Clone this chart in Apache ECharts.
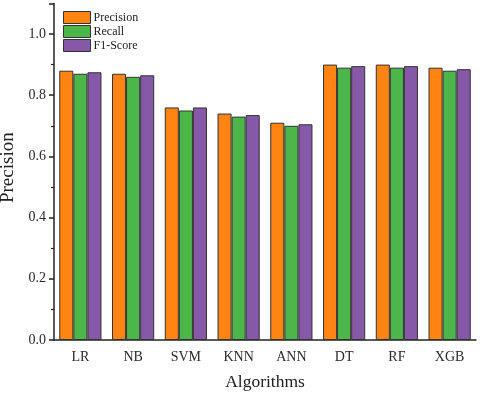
<!DOCTYPE html>
<html>
<head>
<meta charset="utf-8">
<script src="https://cdn.jsdelivr.net/npm/echarts@6/dist/echarts.min.js"></script>
<style>
  html, body { margin: 0; padding: 0; background: #fff; }
  #chart { width: 480px; height: 398px; }
</style>
</head>
<body>
<div id="chart"></div>
<script>
const categories = ["LR", "NB", "SVM", "KNN", "ANN", "DT", "RF", "XGB"];
const precision = [0.88, 0.87, 0.76, 0.74, 0.71, 0.90, 0.90, 0.89];
const recall = [0.87, 0.86, 0.75, 0.73, 0.70, 0.89, 0.89, 0.88];
const f1Score = [0.875, 0.865, 0.76, 0.735, 0.705, 0.895, 0.895, 0.885];

const font = "'Liberation Serif', 'DejaVu Serif', serif";
const barStyle = (color) => ({ color: color, borderColor: "#333", borderWidth: 1 });

const chart = echarts.init(document.getElementById("chart"));
chart.setOption({
  animation: false,
  textStyle: { fontFamily: font },
  legend: {
    left: 58,
    top: 6,
    orient: "vertical",
    itemWidth: 27,
    itemHeight: 12,
    itemGap: 1,
    icon: "rect",
    textStyle: { fontFamily: font, fontSize: 12, color: "#222", padding: [0, 0, 0, -2] },
    itemStyle: { borderColor: "#333", borderWidth: 1 },
    data: ["Precision", "Recall", "F1-Score"]
  },
  grid: { left: 54, right: 4, top: 3.4, bottom: 58, outerBoundsMode: "none" },
  xAxis: [
    {
      type: "category",
      data: categories,
      name: "Algorithms",
      nameLocation: "middle",
      nameGap: 33,
      nameTextStyle: { fontFamily: font, fontSize: 17.5, color: "#222" },
      axisLine: { lineStyle: { color: "#222", width: 1.5 } },
      axisTick: { alignWithLabel: true, length: 5, lineStyle: { color: "#222", width: 1.5 } },
      axisLabel: { fontFamily: font, fontSize: 14, color: "#2a2a2a", margin: 10 }
    },
    {
      type: "category",
      data: categories,
      position: "bottom",
      axisLine: { show: false },
      axisTick: { length: 3, lineStyle: { color: "#222", width: 1.2 } },
      axisLabel: { show: false }
    }
  ],
  yAxis: {
    type: "value",
    min: 0,
    max: 1.1,
    interval: 0.2,
    name: "Precision",
    nameLocation: "middle",
    nameGap: 33,
    nameTextStyle: { fontFamily: font, fontSize: 19, color: "#222", padding: [0, 0, 0, 8] },
    axisLine: { show: true, lineStyle: { color: "#222", width: 1.5 } },
    axisTick: { show: true, length: 5, lineStyle: { color: "#222", width: 1.5 } },
    minorTick: { show: true, splitNumber: 2, length: 3, lineStyle: { color: "#222", width: 1.2 } },
    splitLine: { show: false },
    axisLabel: {
      fontFamily: font, fontSize: 14, color: "#2a2a2a", margin: 8,
      formatter: (v) => (Math.abs(v - 1.1) < 1e-6 ? "" : v.toFixed(1))
    }
  },
  series: [
    { name: "Precision", type: "bar", data: precision, barGap: "0%", barCategoryGap: "20%", itemStyle: barStyle("#ff8412") },
    { name: "Recall", type: "bar", data: recall, barGap: "0%", barCategoryGap: "20%", itemStyle: barStyle("#4cb64a") },
    { name: "F1-Score", type: "bar", data: f1Score, barGap: "0%", barCategoryGap: "20%", itemStyle: barStyle("#8558a8") }
  ]
});
</script>
</body>
</html>
